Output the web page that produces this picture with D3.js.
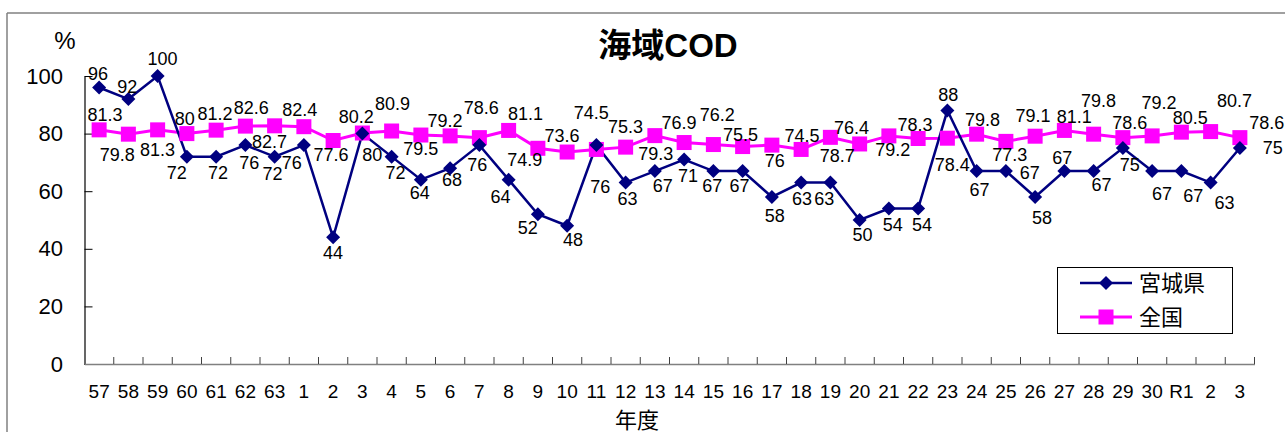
<!DOCTYPE html>
<html><head><meta charset="utf-8">
<script src="https://cdn.jsdelivr.net/npm/d3@7"></script>
<style>
html,body{margin:0;padding:0;background:#fff;}
svg{display:block;}
text{font-family:"Liberation Sans","Noto Sans CJK JP",sans-serif;fill:#000;}
</style></head>
<body>
<svg id="chart" width="1285" height="432"></svg>
<script>
const categories = ["57","58","59","60","61","62","63","1","2","3","4","5","6","7","8","9","10","11","12","13","14","15","16","17","18","19","20","21","22","23","24","25","26","27","28","29","30","R1","2","3"];
const miyagi = [96,92,100,72,72,76,72,76,44,80,72,64,68,76,64,52,48,76,63,67,71,67,67,58,63,63,50,54,54,88,67,67,58,67,67,75,67,67,63,75];
const zenkoku = [81.3,79.8,81.3,80,81.2,82.6,82.7,82.4,77.6,80.2,80.9,79.5,79.2,78.6,81.1,74.9,73.6,74.5,75.3,79.3,76.9,76.2,75.5,76,74.5,78.7,76.4,79.2,78.3,78.4,79.8,77.3,79.1,81.1,79.8,78.6,79.2,80.5,80.7,78.6];
const yTicks = [0,20,40,60,80,100];
const seriesNames = ["宮城県","全国"];
// label offsets (layout only)
const miyagiLabelDx = [-1,-1,5,-10,2,4,-2,-12,0,10,4,-1,2,-2,-8,-10,6,4,2,8,4,-1,-3,3,1,-6,3,4,4,1,3,24,7,-2,8,7,10,12,14,33];
const miyagiLabelDy = [-14,-13,-17.5,16,16,17.5,17,17,15,21,16,13,11,19,17,13,14,41,16,14.5,15.5,14.5,14.5,18.5,16,16,14.5,16,16,-16,18.5,1.5,20.5,-13.5,13.5,16.5,22.5,24.5,20,0];
const zenkokuLabelDx = [6,-11,0,-2,-1,6,-5,-4,-2,-6,1,0,-5,2,17,-13,-5,-5,0,1,-5,4,-2,3,1,7,-8,4,-3,5,6,4,-2,10,5,7,7,9,24,27];
const zenkokuLabelDy = [-15,20,20,-15,-16.5,-18.5,16,-17,14,-16.5,-27.5,13,-15,-30,-17,11,-16.5,-37,-20.5,18,-20,-30,-12,15.5,-14,18,-16.5,13.5,-13.5,26,-15,13,-20.5,-14,-34,-15,-33,-15,-31,-15];

const svg = d3.select("#chart");
const navy = "#000080", magenta = "#FF00FF";

// outer frame
svg.append("line").attr("x1",7).attr("x2",1285).attr("y1",13).attr("y2",13).attr("stroke","#808080").attr("stroke-width",1.5);
svg.append("line").attr("x1",7).attr("x2",7).attr("y1",13).attr("y2",432).attr("stroke","#808080").attr("stroke-width",1.5);

const idx = d3.range(categories.length);
const x = d3.scaleBand().domain(idx).range([84.5,1254.5]).padding(0);
const y = d3.scaleLinear().domain([0,100]).range([364,76]);
const cx = i => x(i) + x.bandwidth()/2;

// title
svg.append("text").attr("x",668).attr("y",57).attr("text-anchor","middle")
  .style("font-size","33px").style("font-weight","bold").text("海域COD");
svg.append("text").attr("x",65).attr("y",49).attr("text-anchor","middle")
  .style("font-size","24px").text("%");

// y axis
const yAxis = d3.axisLeft(y).tickValues(yTicks).tickSizeInner(-8).tickSizeOuter(0).tickPadding(21.5);
const gy = svg.append("g").attr("transform","translate(84.5,0)").call(yAxis);
gy.select(".domain").attr("stroke","#000").attr("stroke-width",1.2);
gy.selectAll(".tick line").attr("stroke","#000");
gy.selectAll(".tick text").style("font-size","22px").style("font-family","'Liberation Sans',sans-serif");

// x axis
const xAxis = d3.axisBottom(x).tickFormat(i => categories[i]).tickSize(0).tickPadding(21);
const gx = svg.append("g").attr("transform","translate(0,364)").call(xAxis);
gx.select(".domain").attr("stroke","#808080").attr("stroke-width",1.5);
gx.selectAll(".tick text").style("font-size","19px").style("font-family","'Liberation Sans',sans-serif");
const bounds = idx.map(i => x(i)).concat([x(idx.length-1)+x.bandwidth()]);
svg.append("g").selectAll("line").data(bounds.slice(1)).join("line")
  .attr("x1",d=>d).attr("x2",d=>d).attr("y1",357).attr("y2",364).attr("stroke","#404040").attr("stroke-width",1);

svg.append("text").attr("x",637).attr("y",428).attr("text-anchor","middle")
  .style("font-size","22px").text("年度");

// lines
const lineGen = d3.line().x((d,i)=>cx(i)).y(d=>y(d));
svg.append("path").datum(zenkoku).attr("d",lineGen).attr("fill","none").attr("stroke",magenta).attr("stroke-width",3);
svg.append("path").datum(miyagi).attr("d",lineGen).attr("fill","none").attr("stroke",navy).attr("stroke-width",2.5);

// markers
svg.append("g").selectAll("rect").data(zenkoku).join("rect")
  .attr("x",(d,i)=>cx(i)-7.5).attr("y",d=>y(d)-7.5).attr("width",15).attr("height",15).attr("fill",magenta);
const diamond = "M0,-7L7,0L0,7L-7,0Z";
svg.append("g").selectAll("path").data(miyagi).join("path")
  .attr("transform",(d,i)=>`translate(${cx(i)},${y(d)})`).attr("d",diamond).attr("fill",navy);

// labels
svg.append("g").selectAll("text").data(zenkoku).join("text")
  .attr("x",(d,i)=>cx(i)+zenkokuLabelDx[i]).attr("y",(d,i)=>y(d)+zenkokuLabelDy[i])
  .attr("dy","0.36em").attr("text-anchor","middle").style("font-size","18px").text(d=>String(d));
svg.append("g").selectAll("text").data(miyagi).join("text")
  .attr("x",(d,i)=>cx(i)+miyagiLabelDx[i]).attr("y",(d,i)=>y(d)+miyagiLabelDy[i])
  .attr("dy","0.36em").attr("text-anchor","middle").style("font-size","18px").text(d=>String(d));

// legend
const lg = svg.append("g");
lg.append("rect").attr("x",1057.5).attr("y",267.5).attr("width",175).attr("height",66).attr("fill","#fff").attr("stroke","#000").attr("stroke-width",1);
const legendItems = [{name:seriesNames[0], color:navy, shape:"diamond", yy:283},{name:seriesNames[1], color:magenta, shape:"square", yy:317}];
legendItems.forEach(it=>{
  lg.append("line").attr("x1",1080).attr("x2",1132).attr("y1",it.yy).attr("y2",it.yy).attr("stroke",it.color).attr("stroke-width",it.shape==="square"?3:2.5);
  if(it.shape==="square") lg.append("rect").attr("x",1106-7.5).attr("y",it.yy-7.5).attr("width",15).attr("height",15).attr("fill",it.color);
  else lg.append("path").attr("transform",`translate(1106,${it.yy})`).attr("d",diamond).attr("fill",it.color);
  lg.append("text").attr("x",1139).attr("y",it.yy).attr("dy","0.36em").style("font-size","22px")
    .style("font-family","'Noto Sans CJK JP',sans-serif").text(it.name);
});
</script>
</body></html>
